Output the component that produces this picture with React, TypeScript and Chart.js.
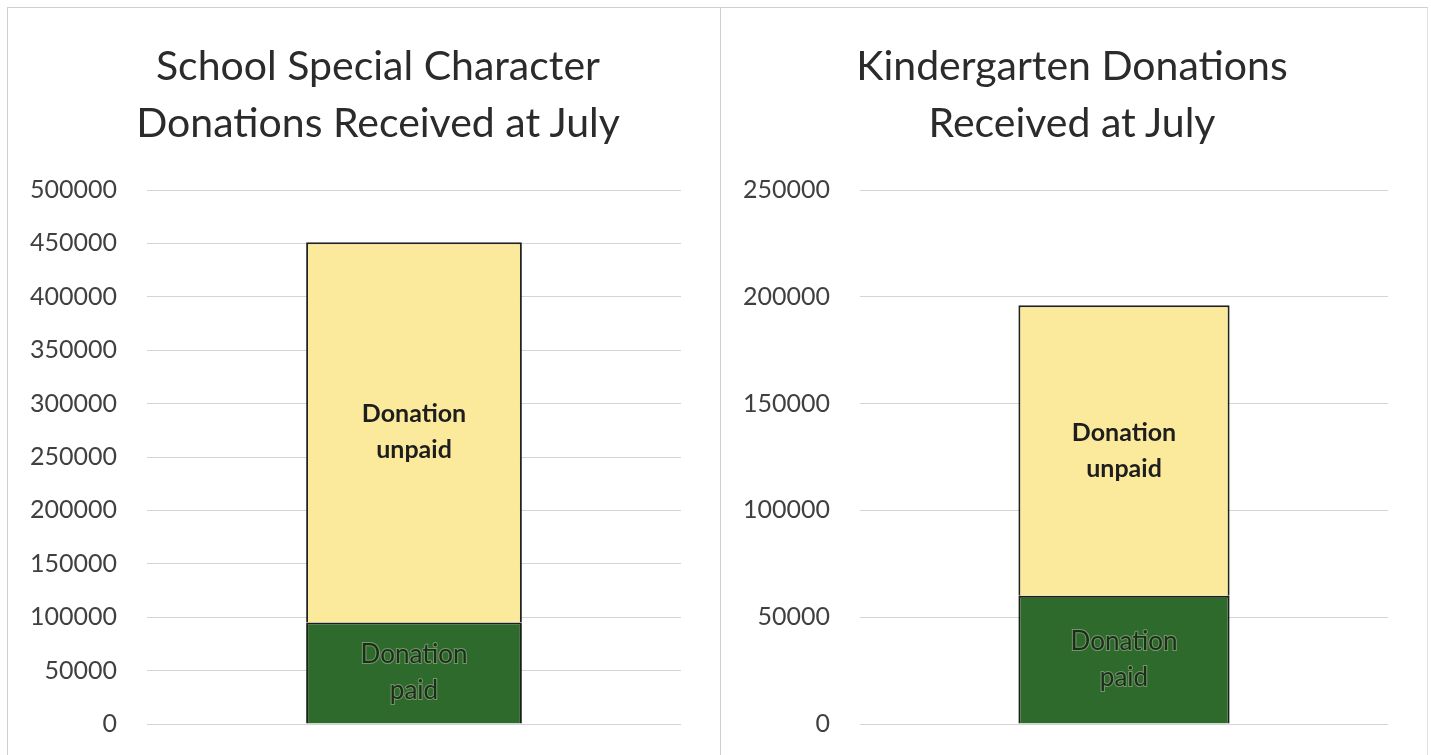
import React, { useEffect, useRef } from "react";
import { Chart, registerables } from "chart.js";

Chart.register(...registerables);

// ---- Data ----
const categories = ["July"];
const seriesNames = ["Donation paid", "Donation unpaid"];
const schoolTitle = ["School Special Character", "Donations Received at July"];
const schoolPaid = [95000];
const schoolUnpaid = [356000];
const schoolTicks = [0, 50000, 100000, 150000, 200000, 250000, 300000, 350000, 400000, 450000, 500000];
const kinderTitle = ["Kindergarten Donations", "Received at July"];
const kinderPaid = [60000];
const kinderUnpaid = [136000];
const kinderTicks = [0, 50000, 100000, 150000, 200000, 250000];

const FONT = "Lato, 'Open Sans', sans-serif";

const labelPlugin = {
  id: "segLabels",
  afterDatasetsDraw(chart: any) {
    const ctx = chart.ctx;
    chart.data.datasets.forEach((ds: any, di: number) => {
      const meta = chart.getDatasetMeta(di);
      meta.data.forEach((bar: any) => {
        const cx = bar.x;
        const cy = (bar.y + bar.base) / 2;
        const lines = ds.label.split(" ");
        ctx.save();
        ctx.textAlign = "center";
        ctx.textBaseline = "middle";
        const paid = di === 0;
        ctx.font = (paid ? "400 26px " : "700 25px ") + FONT;
        const lh = 36;
        lines.forEach((t: string, i: number) => {
          const yy = cy + (i - (lines.length - 1) / 2) * lh;
          if (paid) {
            ctx.lineWidth = 2;
            ctx.strokeStyle = "rgba(140,165,130,0.75)";
            ctx.strokeText(t, cx, yy);
            ctx.fillStyle = "#1b2e19";
          } else {
            ctx.fillStyle = "#1e1e1e";
          }
          ctx.fillText(t, cx, yy);
        });
        ctx.restore();
      });
    });
  },
};

function Panel({ title, paid, unpaid, ticks, barPct, padR, titleW }: any) {
  const ref = useRef<HTMLCanvasElement>(null);
  useEffect(() => {
    const max = ticks[ticks.length - 1];
    const step = ticks[1] - ticks[0];
    const chart = new Chart(ref.current!, {
      type: "bar",
      data: {
        labels: categories,
        datasets: [
          {
            label: seriesNames[0],
            data: paid,
            backgroundColor: "#2e6a2b",
            borderColor: "#1a1f18",
            borderWidth: 2,
            barPercentage: barPct,
            categoryPercentage: 1,
          },
          {
            label: seriesNames[1],
            data: unpaid,
            backgroundColor: "#fbea9c",
            borderColor: "#222222",
            borderWidth: 2,
            barPercentage: barPct,
            categoryPercentage: 1,
          },
        ],
      },
      options: {
        animation: false,
        responsive: false,
        maintainAspectRatio: false,
        layout: { padding: { left: 0, right: padR, top: 182, bottom: 29 } },
        plugins: {
          legend: { display: false },
          tooltip: { enabled: false },
          title: { display: false },
        },
        scales: {
          x: { stacked: true, display: false },
          y: {
            stacked: true,
            min: 0,
            max,
            afterFit: (s: any) => {
              s.width = 139;
            },
            ticks: {
              stepSize: step,
              color: "#404040",
              padding: 0,
              font: { family: FONT, size: 25 },
              callback: (v: any) => String(v),
            },
            grid: { color: "#d4d4d4", lineWidth: 1, drawTicks: true, tickLength: 30, tickColor: "rgba(0,0,0,0)" },
            border: { display: false },
          },
        },
      },
      plugins: [labelPlugin],
    });
    return () => chart.destroy();
  }, []);
  return (
    <div style={{ position: "relative" }}>
      <canvas ref={ref} width={712} height={745} style={{ display: "block" }} />
      <div
        style={{
          position: "absolute",
          left: 0,
          top: 28,
          width: titleW,
          textAlign: "center",
          fontFamily: FONT,
          fontSize: 41,
          lineHeight: "57px",
          color: "#2b2b2b",
          whiteSpace: "nowrap",
        }}
      >
        {title.map((t: string) => (
          <div key={t}>{t}</div>
        ))}
      </div>
    </div>
  );
}

export default function App() {
  return (
    <div style={{ position: "fixed", left: 0, top: 0, width: 1431, height: 755, background: "#ffffff", overflow: "hidden" }}>
      <div style={{ position: "absolute", left: 7, top: 7, width: 712, height: 760, border: "1px solid #cfcfcf", borderBottom: "none" }}>
        <Panel title={schoolTitle} paid={schoolPaid} unpaid={schoolUnpaid} ticks={schoolTicks} barPct={0.404} padR={39} titleW={740} />
      </div>
      <div style={{ position: "absolute", left: 720, top: 7, width: 706, height: 760, borderRight: "1px solid #e0e0e0", borderTop: "1px solid #cfcfcf", borderLeft: "1px solid #cfcfcf" }}>
        <Panel title={kinderTitle} paid={kinderPaid} unpaid={kinderUnpaid} ticks={kinderTicks} barPct={0.4} padR={45} titleW={702} />
      </div>
    </div>
  );
}
